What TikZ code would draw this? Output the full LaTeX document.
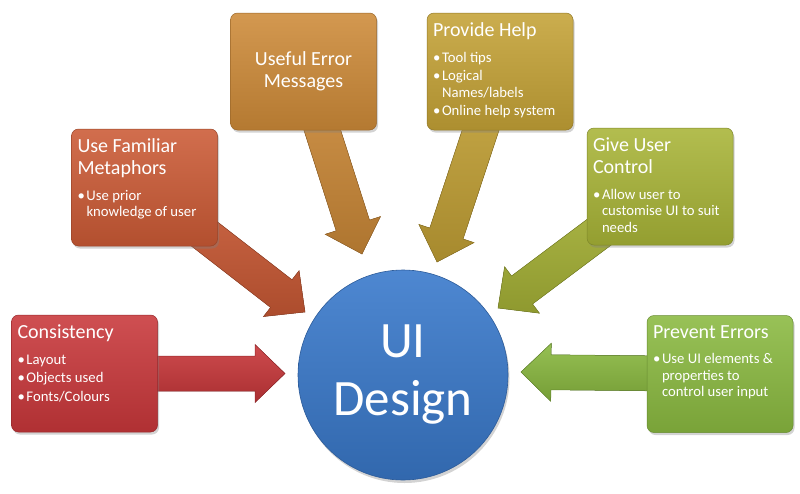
\documentclass[tikz,border=0pt]{standalone}
\usepackage{fontspec}
\setmainfont{Carlito}
\usetikzlibrary{calc,shadows}

\definecolor{consred}{HTML}{C8373A}
\definecolor{metaorange}{HTML}{CB5A35}
\definecolor{errorange}{HTML}{CD8A38}
\definecolor{helpgold}{HTML}{C4A236}
\definecolor{ctrlolive}{HTML}{A8B437}
\definecolor{prevgreen}{HTML}{8AB940}
\definecolor{uiblue}{HTML}{3A7ACC}

\tikzset{
  uibox/.style={rectangle, rounded corners=7pt, minimum width=146pt, minimum height=117pt,
    inner sep=0pt, text=white, draw=#1!75!black, line width=0.5pt,
    top color=#1!88!white, bottom color=#1!88!black,
    drop shadow={opacity=0.35, shadow xshift=1.5pt, shadow yshift=-2.5pt},
    font=\fontsize{14.7}{16.5}\selectfont},
  uiarrow/.style={draw=#1!75!black, line width=0.5pt, line join=miter,
    top color=#1!90!white, bottom color=#1!85!black},
  uicircle/.style={circle, minimum size=210pt, inner sep=0pt, text=white, align=center,
    draw=uiblue!75!black, line width=0.6pt, top color=uiblue!90!white, bottom color=uiblue!85!black,
    drop shadow={opacity=0.35, shadow xshift=1.5pt, shadow yshift=-3pt},
    font=\fontsize{51}{58}\selectfont}
}

% box text: title, then bullet items
\newcommand{\boxtitle}[1]{{\fontsize{20}{22}\selectfont #1\par}\vspace{9pt}}
\newcommand{\uiitem}[1]{\hangindent=9pt\hangafter=1\noindent\makebox[9pt][l]{\textbullet}#1\par\vspace{2pt}}
\newcommand{\boxtext}[1]{\parbox[c][97pt][t]{134pt}{#1}}

% block arrow from the middle of a box to a tip
\newcommand{\uiarrowto}[3]{%
  \filldraw[uiarrow=#3] let \p1=($(#2)-(#1)$), \n1={atan2(\y1,\x1)} in
    (#2) -- ($(#2)+(\n1+180:30)+(\n1+90:29)$) -- ($(#2)+(\n1+180:30)+(\n1+90:17.5)$)
    -- ($(#1)+(\n1+90:17.5)$) -- ($(#1)+(\n1-90:17.5)$)
    -- ($(#2)+(\n1+180:30)+(\n1-90:17.5)$) -- ($(#2)+(\n1+180:30)+(\n1-90:29)$) -- cycle;}

\begin{document}
\begin{tikzpicture}[x=1pt,y=1pt]
\useasboundingbox (0,0) rectangle (800,-493);

% tips of the arrows
\coordinate (constip) at (285,-373.5);
\coordinate (metatip) at (305,-312);
\coordinate (errtip) at (362,-254);
\coordinate (helptip) at (437,-262);
\coordinate (ctrltip) at (498,-308);
\coordinate (prevtip) at (521,-372);

% box centres, so arrows can go first
\coordinate (consc) at (84.5,-373.5);
\coordinate (metac) at (144.5,-187.5);
\coordinate (errc) at (303.5,-71.5);
\coordinate (helpc) at (500,-71.5);
\coordinate (ctrlc) at (660,-186.5);
\coordinate (prevc) at (720,-374);

\uiarrowto{consc}{constip}{consred}
\uiarrowto{metac}{metatip}{metaorange}
\uiarrowto{errc}{errtip}{errorange}
\uiarrowto{helpc}{helptip}{helpgold}
\uiarrowto{ctrlc}{ctrltip}{ctrlolive}
\uiarrowto{prevc}{prevtip}{prevgreen}

\node[uibox=consred] (cons) at (consc) {\boxtext{\boxtitle{Consistency}
  \uiitem{Layout}\uiitem{Objects used}\uiitem{Fonts/Colours}}};
\node[uibox=metaorange] (meta) at (metac) {\boxtext{\boxtitle{Use Familiar\\Metaphors}
  \uiitem{Use prior\\knowledge of user}}};
\node[uibox=errorange] (err) at (errc) {\parbox{134pt}{\centering\fontsize{20}{22}\selectfont Useful Error\\Messages}};
\node[uibox=helpgold] (help) at (helpc) {\boxtext{\boxtitle{Provide Help}
  \uiitem{Tool tips}\uiitem{Logical\\Names/labels}\uiitem{Online help system}}};
\node[uibox=ctrlolive] (ctrl) at (ctrlc) {\boxtext{\boxtitle{Give User\\Control}
  \uiitem{Allow user to\\customise UI to suit\\needs}}};
\node[uibox=prevgreen] (prev) at (prevc) {\boxtext{\boxtitle{Prevent Errors}
  \uiitem{Use UI elements \&\\properties to\\control user input}}};

\node[uicircle] (ui) at (403,-375) {UI\\Design};
\end{tikzpicture}
\end{document}
